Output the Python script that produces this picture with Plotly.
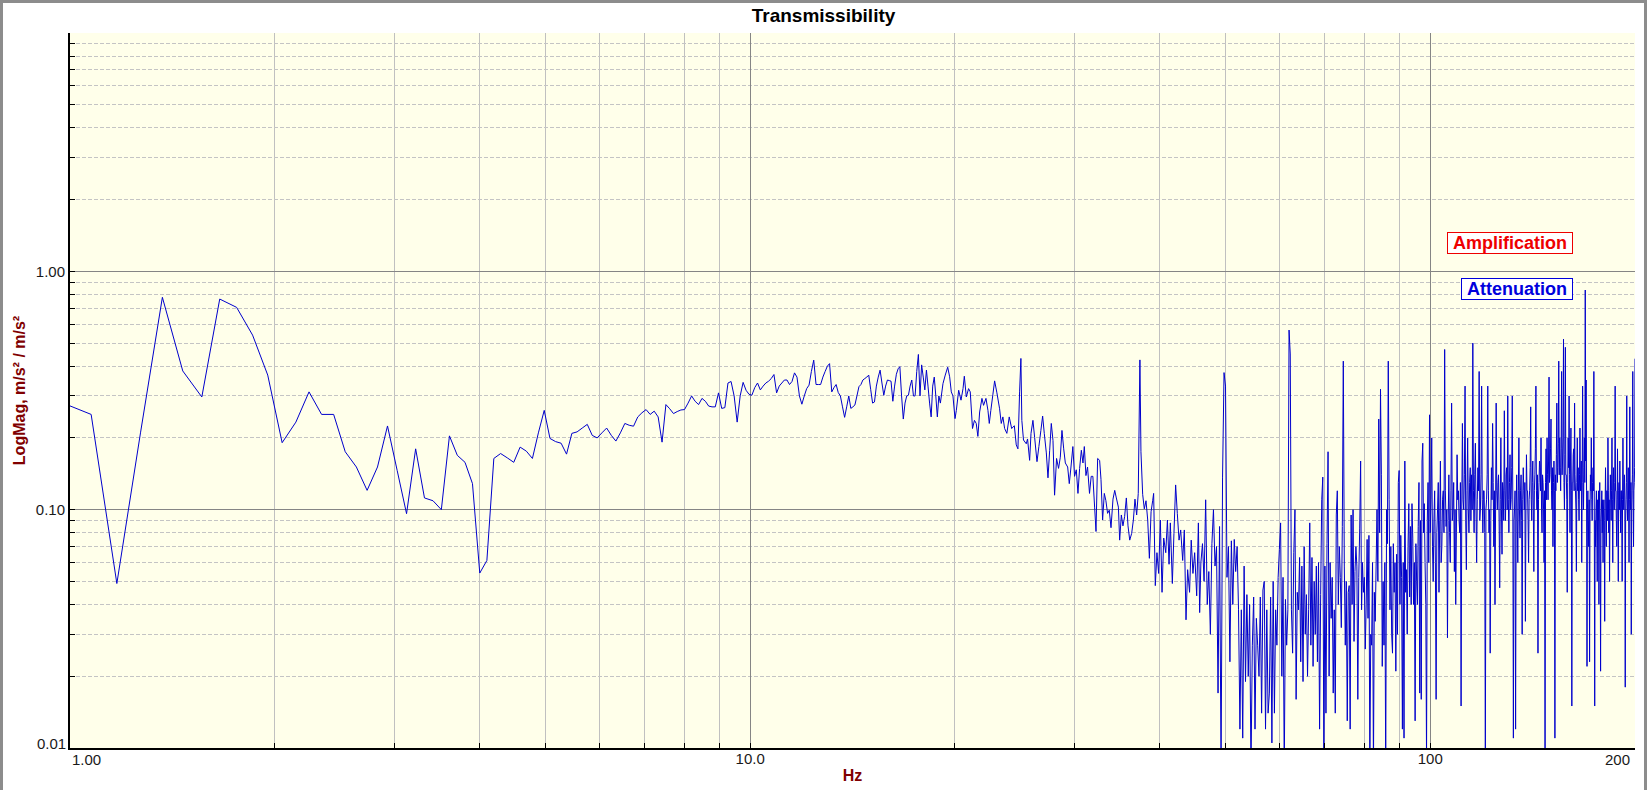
import numpy as np
import plotly.graph_objects as go

# ---------------- data ----------------
BIN_HZ = 100.0 / 1024.0          # FFT line spacing (Hz)
FIRST_BIN = 10                   # first line shown (0.977 Hz)

# magnitudes on FFT lines k = 10 .. 195  (0.98 Hz .. 19.04 Hz)
mag_low = [
    0.28, 0.251, 0.049, 0.21, 0.778, 0.382, 0.297, 0.765, 0.706, 0.54,
    0.367, 0.191, 0.233, 0.312, 0.251, 0.251, 0.175, 0.151, 0.1205, 0.151,
    0.2245, 0.146, 0.0962, 0.18, 0.112, 0.109, 0.100, 0.204, 0.169, 0.158,
    0.1286, 0.0542, 0.0612, 0.164, 0.172, 0.165, 0.158, 0.183, 0.176, 0.164,
    0.21, 0.261, 0.199, 0.193, 0.19, 0.171, 0.209, 0.212, 0.22, 0.228,
    0.205, 0.20, 0.21, 0.22, 0.205, 0.194, 0.21, 0.23, 0.226, 0.224,
    0.245, 0.255, 0.263, 0.251, 0.259, 0.245, 0.192, 0.276, 0.265, 0.253,
    0.258, 0.262, 0.263, 0.28, 0.30, 0.285, 0.276, 0.293, 0.285, 0.272,
    0.27, 0.27, 0.309, 0.266, 0.268, 0.34, 0.345, 0.30, 0.233, 0.30,
    0.342, 0.317, 0.305, 0.302, 0.325, 0.34, 0.318, 0.33, 0.34, 0.346,
    0.355, 0.369, 0.309, 0.33, 0.34, 0.35, 0.35, 0.335, 0.345, 0.375,
    0.36, 0.30, 0.277, 0.30, 0.322, 0.333, 0.38, 0.424, 0.335, 0.335,
    0.335, 0.36, 0.38, 0.40, 0.41, 0.312, 0.325, 0.335, 0.31, 0.30,
    0.27, 0.244, 0.27, 0.30, 0.266, 0.27, 0.275, 0.30, 0.328, 0.335,
    0.35, 0.355, 0.36, 0.367, 0.32, 0.28, 0.283, 0.33, 0.36, 0.385,
    0.34, 0.302, 0.33, 0.35, 0.348, 0.346, 0.285, 0.33, 0.37, 0.39,
    0.398, 0.30, 0.24, 0.28, 0.30, 0.302, 0.33, 0.35, 0.30, 0.30,
    0.38, 0.448, 0.30, 0.405, 0.36, 0.318, 0.385, 0.33, 0.28, 0.245,
    0.33, 0.36, 0.30, 0.245, 0.30, 0.28,
]

# 19 - 46 Hz (read point by point)
freq_mid = [
    19.21, 19.36, 19.52, 19.65, 19.76, 19.87, 20.01, 20.10, 20.26, 20.42,
    20.56, 20.65, 20.79, 20.95, 21.07, 21.23, 21.37, 21.50, 21.62, 21.75,
    21.92, 22.04, 22.22, 22.37, 22.47, 22.59, 22.75, 22.88, 23.06, 23.27,
    23.40, 23.53, 23.67, 23.85, 24.04, 24.24, 24.46, 24.62, 24.76, 24.90,
    25.01, 25.09, 25.23, 25.47, 25.58, 25.76, 25.88, 26.05, 26.20, 26.41,
    26.58, 26.76, 26.92, 27.07, 27.26, 27.41, 27.57, 27.72, 27.88, 28.03,
    28.22, 28.41, 28.58, 28.74, 28.91, 29.07, 29.30, 29.46, 29.63, 29.82,
    29.99, 30.17, 30.34, 30.51, 30.69, 30.86, 31.00, 31.17, 31.34, 31.55,
    31.73, 31.91, 32.10, 32.25, 32.43, 32.65, 32.80, 32.98, 33.17, 33.35,
    33.54, 33.73, 33.93, 34.16, 34.36, 34.55, 34.79, 34.94, 35.14, 35.33,
    35.53, 35.74, 35.94, 36.15, 36.39, 36.60, 36.80, 37.01, 37.21, 37.42,
    37.55, 37.77, 37.98, 38.20, 38.42, 38.64, 38.86, 39.07, 39.20, 39.42,
    39.64, 39.87, 40.10, 40.33, 40.56, 40.84, 41.07, 41.30, 41.48, 41.76,
    41.99, 42.23, 42.47, 42.72, 42.96, 43.25, 43.49, 43.74, 43.98, 44.27,
    44.52, 44.78, 45.04, 45.35, 45.61, 45.81,
]
mag_mid = [
    0.338, 0.367, 0.396, 0.361, 0.312, 0.30, 0.241, 0.261, 0.317, 0.288,
    0.322, 0.363, 0.297, 0.322, 0.312, 0.219, 0.237, 0.23, 0.203, 0.257,
    0.293, 0.274, 0.293, 0.261, 0.23, 0.261, 0.305, 0.347, 0.309, 0.265,
    0.23, 0.245, 0.219, 0.209, 0.245, 0.219, 0.225, 0.187, 0.18, 0.312,
    0.431, 0.237, 0.196, 0.189, 0.198, 0.161, 0.209, 0.237, 0.201, 0.159,
    0.184, 0.215, 0.247, 0.209, 0.173, 0.136, 0.1775, 0.23, 0.195, 0.115,
    0.164, 0.149, 0.166, 0.215, 0.18, 0.157, 0.151, 0.1286, 0.151, 0.184,
    0.138, 0.147, 0.117, 0.149, 0.1775, 0.157, 0.184, 0.139, 0.151, 0.117,
    0.138, 0.138, 0.1025, 0.081, 0.164, 0.161, 0.134, 0.0905, 0.117, 0.109,
    0.0965, 0.0995, 0.084, 0.1107, 0.1205, 0.112, 0.1025, 0.0745, 0.095, 0.0855,
    0.0935, 0.112, 0.0855, 0.0745, 0.0795, 0.0905, 0.1107, 0.095, 0.117, 0.425,
    0.175, 0.116, 0.1008, 0.109, 0.0905, 0.0625, 0.098, 0.109, 0.117, 0.048,
    0.066, 0.054, 0.0905, 0.045, 0.076, 0.066, 0.0905, 0.059, 0.088, 0.049,
    0.0795, 0.127, 0.0965, 0.0745, 0.0822, 0.0612, 0.0822, 0.0345, 0.056, 0.045,
    0.0745, 0.054, 0.066, 0.0435, 0.088, 0.037,
]

# 46.0 - 99.75 Hz every 0.25 Hz
mag_d1 = [
    0.06, 0.072, 0.05, 0.11, 0.04, 0.055, 0.03, 0.072,
    0.1, 0.058, 0.07, 0.017, 0.085, 0.008, 0.137, 0.376,
    0.33, 0.052, 0.07, 0.023, 0.074, 0.04, 0.075, 0.055,
    0.07, 0.038, 0.012, 0.038, 0.011, 0.058, 0.019, 0.044,
    0.02, 0.04, 0.008, 0.027, 0.043, 0.012, 0.035, 0.027,
    0.02, 0.043, 0.014, 0.046, 0.05, 0.012, 0.038, 0.014,
    0.017, 0.043, 0.0105, 0.05, 0.014, 0.038, 0.027, 0.052,
    0.068, 0.088, 0.02, 0.052, 0.008, 0.042, 0.027, 0.038,
    0.567, 0.45, 0.038, 0.025, 0.066, 0.1, 0.016, 0.045,
    0.038, 0.063, 0.023, 0.058, 0.019, 0.07, 0.03, 0.044,
    0.02, 0.038, 0.088, 0.027, 0.063, 0.022, 0.05, 0.03,
    0.058, 0.023, 0.06, 0.012, 0.044, 0.11, 0.137, 0.008,
    0.058, 0.014, 0.072, 0.175, 0.02, 0.06, 0.035, 0.052,
    0.017, 0.038, 0.014, 0.095, 0.12, 0.04, 0.07, 0.052,
    0.032, 0.085, 0.42, 0.058, 0.027, 0.05, 0.013, 0.045,
    0.048, 0.012, 0.095, 0.04, 0.1, 0.028, 0.055, 0.07,
    0.058, 0.016, 0.052, 0.083, 0.16, 0.038, 0.06, 0.045,
    0.052, 0.026, 0.04, 0.075, 0.035, 0.078, 0.008, 0.03,
    0.027, 0.06, 0.008, 0.045, 0.034, 0.058, 0.1, 0.05,
    0.24, 0.08, 0.32, 0.14, 0.022, 0.05, 0.027, 0.06,
    0.008, 0.1, 0.072, 0.42, 0.11, 0.038, 0.07, 0.03,
    0.025, 0.072, 0.045, 0.06, 0.021, 0.065, 0.03, 0.13,
    0.146, 0.04, 0.078, 0.052, 0.012, 0.06, 0.011, 0.16,
    0.045, 0.056, 0.03, 0.07, 0.106, 0.043, 0.085, 0.04,
    0.106, 0.076, 0.04, 0.06, 0.013, 0.072, 0.05, 0.04,
    0.085, 0.13, 0.017, 0.09, 0.016, 0.16, 0.19, 0.08,
    0.106, 0.06, 0.04, 0.009, 0.09, 0.13, 0.06, 0.25,
]

# 100.0 - 200.0 Hz every 0.25 Hz
mag_d2 = [
    0.08, 0.11, 0.2, 0.07, 0.05, 0.09, 0.12, 0.06, 0.016, 0.08, 0.1, 0.13, 0.045, 0.09, 0.16, 0.06, 0.07, 0.11, 0.12, 0.08,
    0.47, 0.12, 0.085, 0.1, 0.029, 0.09, 0.14, 0.08, 0.06, 0.12, 0.28, 0.09, 0.1, 0.13, 0.055, 0.1, 0.04, 0.08, 0.17, 0.11,
    0.12, 0.09, 0.08, 0.13, 0.015, 0.1, 0.23, 0.11, 0.1, 0.14, 0.33, 0.09, 0.056, 0.12, 0.2, 0.1, 0.08, 0.13, 0.15, 0.09,
    0.14, 0.1, 0.5, 0.12, 0.08, 0.14, 0.19, 0.1, 0.06, 0.11, 0.15, 0.12, 0.38, 0.09, 0.1, 0.14, 0.33, 0.11, 0.08, 0.12,
    0.12, 0.08, 0.009, 0.1, 0.11, 0.14, 0.33, 0.12, 0.08, 0.1, 0.025, 0.09, 0.15, 0.11, 0.23, 0.13, 0.07, 0.12, 0.04, 0.1,
    0.28, 0.12, 0.1, 0.13, 0.14, 0.09, 0.047, 0.11, 0.2, 0.1, 0.065, 0.13, 0.12, 0.09, 0.26, 0.12, 0.09, 0.14, 0.15, 0.1,
    0.3, 0.11, 0.08, 0.13, 0.17, 0.1, 0.11, 0.15, 0.3, 0.1, 0.011, 0.09, 0.1, 0.12, 0.012, 0.1, 0.14, 0.09, 0.06, 0.12,
    0.2, 0.1, 0.076, 0.12, 0.14, 0.09, 0.03, 0.11, 0.15, 0.12, 0.1, 0.13, 0.034, 0.1, 0.17, 0.12, 0.12, 0.09, 0.06, 0.11,
    0.12, 0.15, 0.27, 0.11, 0.09, 0.13, 0.16, 0.1, 0.055, 0.12, 0.14, 0.18, 0.33, 0.12, 0.1, 0.14, 0.025, 0.11, 0.13, 0.16,
    0.15, 0.12, 0.2, 0.1, 0.08, 0.14, 0.13, 0.1, 0.06, 0.12, 0.009, 0.13, 0.18, 0.11, 0.2, 0.14, 0.11, 0.16, 0.36, 0.13,
    0.14, 0.18, 0.24, 0.12, 0.1, 0.15, 0.07, 0.13, 0.16, 0.12, 0.011, 0.14, 0.12, 0.17, 0.28, 0.13, 0.15, 0.19, 0.42, 0.14,
    0.2, 0.15, 0.12, 0.18, 0.38, 0.14, 0.16, 0.2, 0.52, 0.13, 0.1, 0.17, 0.48, 0.14, 0.14, 0.11, 0.045, 0.13, 0.2, 0.15,
    0.3, 0.14, 0.08, 0.16, 0.22, 0.12, 0.015, 0.13, 0.13, 0.17, 0.18, 0.12, 0.28, 0.14, 0.12, 0.1, 0.055, 0.13, 0.2, 0.12,
    0.15, 0.11, 0.09, 0.14, 0.22, 0.12, 0.13, 0.16, 0.06, 0.13, 0.33, 0.14, 0.1, 0.15, 0.2, 0.13, 0.835, 0.16, 0.35, 0.12,
    0.022, 0.1, 0.12, 0.09, 0.07, 0.11, 0.023, 0.1, 0.14, 0.12, 0.2, 0.11, 0.09, 0.13, 0.15, 0.12, 0.38, 0.1, 0.015, 0.09,
    0.07, 0.1, 0.12, 0.08, 0.05, 0.11, 0.09, 0.12, 0.04, 0.1, 0.13, 0.08, 0.021, 0.09, 0.1, 0.12, 0.08, 0.11, 0.06, 0.1,
    0.11, 0.09, 0.034, 0.1, 0.15, 0.11, 0.07, 0.12, 0.12, 0.09, 0.2, 0.12, 0.08, 0.11, 0.05, 0.1, 0.14, 0.11, 0.09, 0.12,
    0.2, 0.11, 0.06, 0.12, 0.15, 0.1, 0.1, 0.13, 0.33, 0.12, 0.12, 0.09, 0.07, 0.11, 0.18, 0.1, 0.05, 0.12, 0.13, 0.1,
    0.16, 0.11, 0.08, 0.12, 0.12, 0.09, 0.05, 0.11, 0.2, 0.12, 0.1, 0.13, 0.14, 0.1, 0.018, 0.09, 0.11, 0.13, 0.3, 0.11,
    0.09, 0.12, 0.15, 0.1, 0.06, 0.11, 0.27, 0.12, 0.1, 0.13, 0.03, 0.1, 0.12, 0.14, 0.38, 0.11, 0.07, 0.12, 0.13, 0.15, 0.43,
]

x_tick_vals = [10, 100]
x_tick_text = ["10.0", "100"]
y_tick_vals = [0.1, 1.0]
y_tick_text = ["0.10", "1.00"]
x_minor = [2, 3, 4, 5, 6, 7, 8, 9, 20, 30, 40, 50, 60, 70, 80, 90]
y_minor = [0.02, 0.03, 0.04, 0.05, 0.06, 0.07, 0.08, 0.09,
           0.2, 0.3, 0.4, 0.5, 0.6, 0.7, 0.8, 0.9,
           2, 3, 4, 5, 6, 7, 8, 9]

# ---------------- assemble ----------------
freq_low = (np.arange(FIRST_BIN, FIRST_BIN + len(mag_low)) * BIN_HZ).tolist()
freq_d1 = (np.arange(184, 184 + len(mag_d1)) * 0.25).tolist()
freq_d2 = (np.arange(400, 400 + len(mag_d2)) * 0.25).tolist()
assert len(freq_mid) == len(mag_mid)

freq = freq_low + freq_mid + freq_d1 + freq_d2
mag = mag_low + mag_mid + mag_d1 + mag_d2

FONT = "Liberation Sans, Arial, sans-serif"
DARKRED = "#800000"
TICKCOL = "#1a1a1a"
NB = "\u00a0"

fig = go.Figure()
fig.add_trace(go.Scatter(
    x=freq, y=mag, mode="lines",
    line=dict(color="#0000CC", width=1, simplify=False),
    hoverinfo="skip", showlegend=False,
))

W, H = 1647, 790
ML, MR, MT, MB = 70, 12, 33, 42
PW, PH = W - ML - MR, H - MT - MB

fig.update_layout(
    width=W, height=H,
    margin=dict(l=ML, r=MR, t=MT, b=MB, pad=0, autoexpand=False),
    paper_bgcolor="white",
    plot_bgcolor="#FFFFEA",
    font=dict(family=FONT, size=15, color=TICKCOL),
    title=dict(text="<b>Transmissibility</b>", x=0.5, xref="container",
               xanchor="center", y=1 - 15.0 / H, yref="container",
               yanchor="middle", font=dict(size=19, color="black")),
    showlegend=False,
    hovermode=False,
)

fig.update_xaxes(
    type="log", range=[0, np.log10(200)], automargin=False,
    showline=True, linecolor="black", linewidth=2, mirror=False,
    ticks="inside", ticklen=5, tickcolor="black", tickwidth=1,
    tickmode="array", tickvals=x_tick_vals, ticktext=x_tick_text,
    ticklabelstandoff=-4,
    showgrid=True, gridcolor="#858585", gridwidth=1, zeroline=False,
    minor=dict(tickmode="array", tickvals=x_minor, ticks="inside", ticklen=5,
               tickcolor="black", showgrid=True, gridcolor="#c0c0c0", gridwidth=1),
    tickfont=dict(size=15, color=TICKCOL),
    title=dict(text="<b>Hz</b>", font=dict(size=16, color=DARKRED), standoff=4),
)

fig.update_yaxes(
    type="log", range=[-2, 1], automargin=False,
    showline=True, linecolor="black", linewidth=2, mirror=False,
    ticks="inside", ticklen=5, tickcolor="black", tickwidth=1,
    tickmode="array", tickvals=y_tick_vals, ticktext=y_tick_text,
    showgrid=True, gridcolor="#858585", gridwidth=1, zeroline=False,
    minor=dict(tickmode="array", tickvals=y_minor, ticks="inside", ticklen=5,
               tickcolor="black", showgrid=True, gridcolor="#c4c4c4",
               gridwidth=1, griddash="4px,2px"),
    tickfont=dict(size=15, color=TICKCOL),
    title=dict(text="<b>LogMag, m/s² / m/s²</b>", font=dict(size=16, color=DARKRED),
               standoff=6),
)

# edge tick labels kept inside the frame, as in the original
fig.add_annotation(text="1.00", x=0, xref="x", xanchor="left",
                   y=0, yref="paper", yanchor="top", yshift=-1,
                   showarrow=False, font=dict(size=15, color=TICKCOL))
fig.add_annotation(text="200", x=np.log10(200), xref="x", xanchor="right",
                   xshift=-3, y=0, yref="paper", yanchor="top", yshift=-1,
                   showarrow=False, font=dict(size=15, color=TICKCOL))
fig.add_annotation(text="0.01", x=0, xref="paper", xanchor="right", xshift=-2,
                   y=-2, yref="y", yanchor="middle", yshift=5,
                   showarrow=False, font=dict(size=15, color=TICKCOL))

# legend-like labels
fig.add_annotation(text="<b>" + NB + "Amplification" + NB + "</b>", xref="paper", yref="paper",
                   x=(1573 - ML) / PW, xanchor="right",
                   y=(H - MB - 243.3) / PH, yanchor="middle",
                   showarrow=False, font=dict(size=18, color="#EE0000"),
                   bgcolor="white", bordercolor="#EE0000", borderwidth=1, borderpad=0)
fig.add_annotation(text="<b>" + NB + "Attenuation" + NB + "</b>", xref="paper", yref="paper",
                   x=(1573 - ML) / PW, xanchor="right",
                   y=(H - MB - 289.3) / PH, yanchor="middle",
                   showarrow=False, font=dict(size=18, color="#0000DD"),
                   bgcolor="white", bordercolor="#0000DD", borderwidth=1, borderpad=0)

# window frame
fig.add_shape(type="rect", xref="paper", yref="paper",
              x0=(1.5 - ML) / PW, x1=(1645.5 - ML) / PW,
              y0=(H - MB - 800) / PH, y1=(H - MB - 1.5) / PH,
              line=dict(color="#8c8c8c", width=3), fillcolor="rgba(0,0,0,0)",
              layer="above")

fig.write_html(
    "out.html",
    config={"displayModeBar": False, "staticPlot": True},
    post_script="document.body.style.margin='0px';document.body.style.padding='0px';"
                "document.body.style.overflow='hidden';",
)
